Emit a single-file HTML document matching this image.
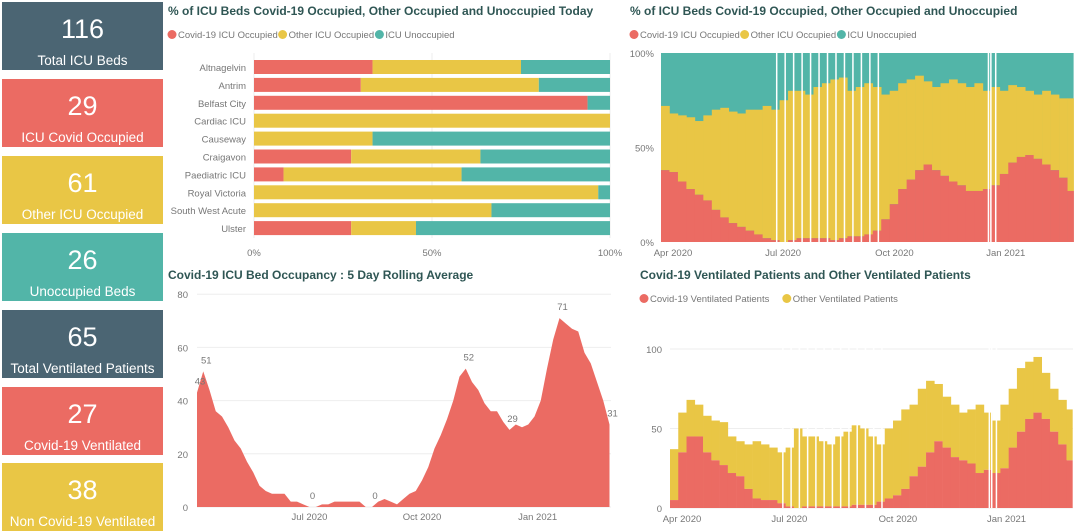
<!DOCTYPE html>
<html><head><meta charset="utf-8">
<style>
body{margin:0;width:1080px;height:531px;overflow:hidden;background:#fff;font-family:"Liberation Sans",sans-serif}
.card{position:absolute;left:2px;width:161px;height:68px;color:#fff;text-align:center}
.card .n{position:absolute;top:12px;left:0;right:0;font-size:27px}
.card .l{position:absolute;bottom:2px;left:0;right:0;font-size:13.5px}
svg text{font-family:"Liberation Sans",sans-serif}
</style></head><body>
<div class="card" style="top:2px;background:#4b6573"><div class="n">116</div><div class="l">Total ICU Beds</div></div>
<div class="card" style="top:79px;background:#eb6b63"><div class="n">29</div><div class="l">ICU Covid Occupied</div></div>
<div class="card" style="top:156px;background:#e9c645"><div class="n">61</div><div class="l">Other ICU Occupied</div></div>
<div class="card" style="top:233px;background:#52b5a8"><div class="n">26</div><div class="l">Unoccupied Beds</div></div>
<div class="card" style="top:310px;background:#4b6573"><div class="n">65</div><div class="l">Total Ventilated Patients</div></div>
<div class="card" style="top:387px;background:#eb6b63"><div class="n">27</div><div class="l">Covid-19 Ventilated</div></div>
<div class="card" style="top:463px;background:#e9c645"><div class="n">38</div><div class="l">Non Covid-19 Ventilated</div></div>
<svg id="s" width="1080" height="531" style="position:absolute;left:0;top:0"></svg>
<script>
const RED="#eb6b63",YEL="#e9c645",TEAL="#52b5a8";
const hospitals=["Altnagelvin","Antrim","Belfast City","Cardiac ICU","Causeway","Craigavon","Paediatric ICU","Royal Victoria","South West Acute","Ulster"];
const hospCovid=[33.3,30,93.7,0,0,27.3,8.3,0,0,27.3];
const hospOther=[41.7,50,0,100,33.3,36.3,50,96.7,66.7,18.2];
const icuCovidPct=[38,37,32,28,25,22,17,13,10,8,6,4,2, 1,0,1,2,2,2,2,1,2,3,3,4,6, 12,20,28,33,38,41,38,35,32,30,27,27,28, 30,36,42,45,46,44,41,38,34,27];
const icuOtherPct=[34,31,35,38,39,45,53,58,59,60,64,66,70, 69,75,79,78,76,80,82,85,85,77,79,80,76, 66,60,56,53,50,44,44,49,54,54,55,57,52, 52,44,41,37,34,34,39,40,42,49];
const gapDays=[95,102,109,116,123,130,137,144,151,158,165,172,179,270,272,276];
const rolling=[43,51,44,36,34,30,25,22,17,13,8,6,5,5,5,2,2,1,0,0,1,1,2,2,2,2,2,0,0,2,3,2,1,3,5,6,10,15,22,27,33,40,49,52,47,44,39,36,36,32,29,31,30,31,34,40,52,63,71,69,67,66,58,54,47,40,31];
const rollingLabelIdx=[0,1,18,28,43,50,58,66];
const ventCovid=[5,35,45,45,35,30,27,22,20,12,6,5,5, 3,1,0,1,1,1,1,1,1,2,2,2,4, 6,8,12,20,26,35,42,38,32,30,28,22,24, 22,25,38,48,56,60,56,48,40,30];
const ventOther=[32,25,23,20,23,25,27,23,22,28,36,35,33, 32,37,50,44,44,41,39,44,47,50,48,43,36, 44,47,50,45,49,45,36,32,33,30,34,43,36, 33,40,37,40,36,35,29,27,28,32];
const monthLabels=["Apr 2020","Jul 2020","Oct 2020","Jan 2021"];
const monthDays=[0,91,183,275];

const svg=document.getElementById('s');const NS="http://www.w3.org/2000/svg";
function el(t,a,txt){const e=document.createElementNS(NS,t);for(const k in a)e.setAttribute(k,a[k]);if(txt!==undefined)e.textContent=txt;svg.appendChild(e);return e;}
function title(x,y,t,nm){const e=el('text',{x:x,y:y,'font-size':12,'font-weight':'bold',fill:'#2f5654'},t);

}
function legend(x,y,items,nm){let cx=x;items.forEach(it=>{const c=el('circle',{cx:cx+4,cy:y-3.5,r:4.5,fill:it[1]});


const t=el('text',{x:cx+10,y:y,'font-size':9.5,fill:'#777'},it[0]);


cx+=10+it[0].length*4.6+4;});}
function tick(x,y,t,anchor,nm){const e=el('text',{x:x,y:y,'font-size':9.5,fill:'#777','text-anchor':anchor},t);

}

// Chart 1
title(168,15,"% of ICU Beds Covid-19 Occupied, Other Occupied and Unoccupied Today","chart1-title");
legend(168,38,[["Covid-19 ICU Occupied",RED],["Other ICU Occupied",YEL],["ICU Unoccupied",TEAL]],"chart1-legend");
const c1x=v=>254+v*3.56, c1y=i=>60+i*17.9;
[0,50,100].forEach(v=>{el('line',{x1:c1x(v),x2:c1x(v),y1:53,y2:238,stroke:'#eee'});tick(c1x(v),256,v+'%','middle','chart1-x-tick');});
hospitals.forEach((h,i)=>{const y=c1y(i);
tick(246,y+11,h,'end','chart1-category-label');
const a=hospCovid[i],b=hospOther[i];
let r=el('rect',{x:c1x(0),y:y,width:c1x(a)-c1x(0),height:14,fill:RED});


r=el('rect',{x:c1x(a),y:y,width:c1x(a+b)-c1x(a),height:14,fill:YEL});


r=el('rect',{x:c1x(a+b),y:y,width:c1x(100)-c1x(a+b),height:14,fill:TEAL});

});

// Chart 2
title(630,15,"% of ICU Beds Covid-19 Occupied, Other Occupied and Unoccupied","chart2-title");
legend(630,38,[["Covid-19 ICU Occupied",RED],["Other ICU Occupied",YEL],["ICU Unoccupied",TEAL]],"chart2-legend");
const c2x=d=>661+d*1.21, c2y=v=>242-v*1.89;
const bg=el('rect',{x:c2x(0),y:c2y(100),width:c2x(341)-c2x(0),height:c2y(0)-c2y(100),fill:TEAL});


icuCovidPct.forEach((v,i)=>{const x=c2x(i*7),w=c2x(Math.min(i*7+7,341))-x+0.3;
let r=el('rect',{x:x,y:c2y(v+icuOtherPct[i]),width:w,height:c2y(0)-c2y(icuOtherPct[i]),fill:YEL});


r=el('rect',{x:x,y:c2y(v),width:w,height:c2y(0)-c2y(v),fill:RED});

});
gapDays.forEach(d=>{const g=el('rect',{x:c2x(d),y:c2y(100),width:1.5,height:c2y(0)-c2y(100),fill:'#fff'});

});
[0,50,100].forEach(v=>tick(654,c2y(v)+4,v+'%','end','chart2-y-tick'));
monthLabels.forEach((m,i)=>tick(c2x(monthDays[i])+12,256,m,'middle','chart2-x-tick'));

// Chart 3
title(168,279,"Covid-19 ICU Bed Occupancy : 5 Day Rolling Average","chart3-title");
const c3x=i=>197+i*6.25, c3y=v=>507-v*2.66;
[0,20,40,60,80].forEach(v=>{el('line',{x1:197,x2:611,y1:c3y(v),y2:c3y(v),stroke:'#eee'});tick(188,c3y(v)+4,v,'end','chart3-y-tick');});
let p="M"+c3x(0)+","+c3y(0);rolling.forEach((v,i)=>p+=" L"+c3x(i)+","+c3y(v));p+=" L"+c3x(rolling.length-1)+","+c3y(0)+"Z";
const ar=el('path',{d:p,fill:RED});


rollingLabelIdx.forEach(i=>tick(c3x(i)+3,c3y(rolling[i])-8,rolling[i],'middle','chart3-data-label'));
const c3m=["Jul 2020","Oct 2020","Jan 2021"],c3d=[18,36,54.5];
c3m.forEach((m,i)=>tick(c3x(c3d[i]),520,m,'middle','chart3-x-tick'));

// Chart 4
title(640,279,"Covid-19 Ventilated Patients and Other Ventilated Patients","chart4-title");
legend(640,302,[["Covid-19 Ventilated Patients",RED],["Other Ventilated Patients",YEL]],"chart4-legend");
const c4x=d=>670+d*1.18, c4y=v=>508-v*1.59;
[0,50,100].forEach(v=>{el('line',{x1:670,x2:1073,y1:c4y(v),y2:c4y(v),stroke:'#eee'});tick(662,c4y(v)+4,v,'end','chart4-y-tick');});
ventCovid.forEach((v,i)=>{const x=c4x(i*7),w=c4x(Math.min(i*7+7,341))-x+0.3;
let r=el('rect',{x:x,y:c4y(v+ventOther[i]),width:w,height:c4y(0)-c4y(ventOther[i]),fill:YEL});


r=el('rect',{x:x,y:c4y(v),width:w,height:c4y(0)-c4y(v),fill:RED});

});
gapDays.forEach(d=>{const g=el('rect',{x:c4x(d),y:c4y(110),width:1.5,height:c4y(0)-c4y(110),fill:'#fff'});

});
monthLabels.forEach((m,i)=>tick(c4x(monthDays[i])+12,522,m,'middle','chart4-x-tick'));
</script>
</body></html>
